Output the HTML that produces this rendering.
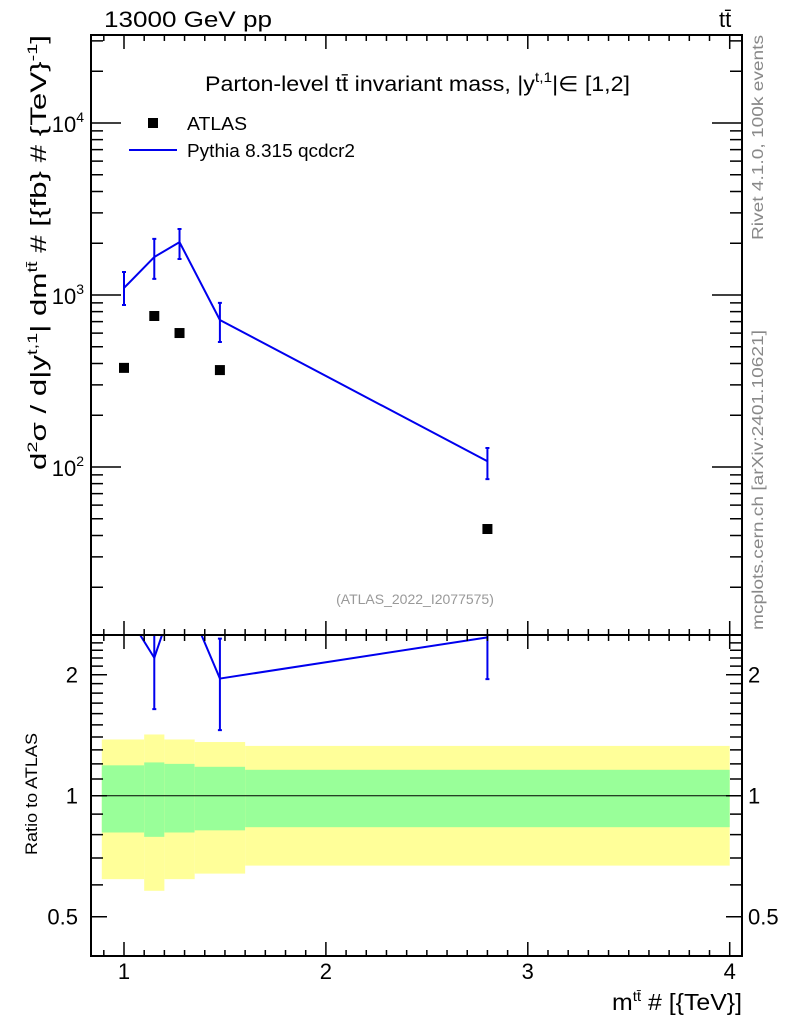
<!DOCTYPE html>
<html><head><meta charset="utf-8"><style>
body{margin:0;background:#fff;}
svg{display:block;font-family:"Liberation Sans",sans-serif;}
</style></head><body>
<svg id="chart" width="786" height="1024" xmlns="http://www.w3.org/2000/svg">
<g id="bands"></g>
<g id="marks"></g>
<g id="axes"></g>
<text x="104" y="27" font-size="22" textLength="168" lengthAdjust="spacingAndGlyphs">13000 GeV pp</text>
<text x="719" y="27" font-size="22">tt̄</text>
<text x="205" y="91" font-size="21" textLength="425" lengthAdjust="spacingAndGlyphs">Parton-level tt̄ invariant mass, |y<tspan dy="-9" font-size="14">t,1</tspan><tspan dy="9">|∈ [1,2]</tspan></text>
<rect x="148" y="118" width="10" height="10" fill="#000"/>
<text x="187" y="130" font-size="18" textLength="60" lengthAdjust="spacingAndGlyphs">ATLAS</text>
<line x1="129" y1="150" x2="177" y2="150" stroke="#0000ee" stroke-width="2"/>
<text x="187" y="157" font-size="18" textLength="168" lengthAdjust="spacingAndGlyphs">Pythia 8.315 qcdcr2</text>
<text x="415" y="604" font-size="14" fill="#999" text-anchor="middle">(ATLAS_2022_I2077575)</text>
<text transform="translate(763,240) rotate(-90)" font-size="16" fill="#888" textLength="205" lengthAdjust="spacingAndGlyphs">Rivet 4.1.0,  100k events</text>
<text transform="translate(763,630) rotate(-90)" font-size="16" fill="#888" textLength="300" lengthAdjust="spacingAndGlyphs">mcplots.cern.ch [arXiv:2401.10621]</text>
<text transform="translate(46,470) rotate(-90)" font-size="22" textLength="435" lengthAdjust="spacingAndGlyphs">d<tspan dy="-9" font-size="14">2</tspan><tspan dy="9">σ / d|y</tspan><tspan dy="-9" font-size="14">t,1</tspan><tspan dy="9">| dm</tspan><tspan dy="-9" font-size="14">tt̄</tspan><tspan dy="9"> # [{fb} # {TeV}</tspan><tspan dy="-9" font-size="14">-1</tspan><tspan dy="9">]</tspan></text>
<text transform="translate(37,855) rotate(-90)" font-size="17" textLength="122" lengthAdjust="spacingAndGlyphs">Ratio to ATLAS</text>
<text x="612" y="1010" font-size="23" textLength="130" lengthAdjust="spacingAndGlyphs">m<tspan dy="-9" font-size="14">tt̄</tspan><tspan dy="9"> # [{TeV}]</tspan></text>
</svg>
<script>
const xCenters=[1.0,1.15,1.275,1.475,2.8];
const atlasVals=[377,755,601,366,43.6];
const mcVals=[1099,1663,2030,716,108];
const mcUp=[1360,2120,2420,900,129];
const mcDn=[875,1240,1620,533,85];
const binEdges=[0.89,1.1,1.2,1.35,1.6,4.0];
const yellowUp=[1.38,1.42,1.38,1.36,1.33];
const yellowDn=[0.62,0.58,0.62,0.64,0.67];
const greenUp=[1.19,1.21,1.2,1.18,1.16];
const greenDn=[0.81,0.79,0.81,0.82,0.835];
const xTickLabels=[1,2,3,4];
const yMainLabels=[2,3,4];
const yRatioLabels=[0.5,1,2];

const NS="http://www.w3.org/2000/svg";
const L=91,R=742,T=35,MB=635,RB=956;
const X=v=>124+(v-1)*201.9;
const Y=v=>295-(Math.log10(v)-3)*172;
const YR=v=>795.7-Math.log2(v)*121;
function mk(tag,par,at){const e=document.createElementNS(NS,tag);for(const k in at)e.setAttribute(k,at[k]);par.appendChild(e);return e;}
const bands=document.getElementById('bands'),marks=document.getElementById('marks'),axes=document.getElementById('axes');
for(let i=0;i<yellowUp.length;i++){
  const x0=X(binEdges[i]),x1=X(binEdges[i+1]);
  const y=mk('rect',bands,{x:x0,y:YR(yellowUp[i]),width:x1-x0,height:YR(yellowDn[i])-YR(yellowUp[i]),fill:'#ffff99'});
  
  
  const g=mk('rect',bands,{x:x0,y:YR(greenUp[i]),width:x1-x0,height:YR(greenDn[i])-YR(greenUp[i]),fill:'#99ff99'});
  
  
}
const one=mk('line',bands,{x1:L,x2:R,y1:YR(1),y2:YR(1),stroke:'#000','stroke-width':1});


const defs=mk('defs',document.getElementById('chart'),{});
const c1=mk('clipPath',defs,{id:'cm'});mk('rect',c1,{x:L,y:T,width:R-L,height:MB-T});
const c2=mk('clipPath',defs,{id:'cr'});mk('rect',c2,{x:L,y:MB,width:R-L,height:RB-MB});
const gm=mk('g',marks,{'clip-path':'url(#cm)'});
const gr=mk('g',marks,{'clip-path':'url(#cr)'});
const mcl=mk('polyline',gm,{points:xCenters.map((x,i)=>X(x)+','+Y(mcVals[i])).join(' '),fill:'none',stroke:'#0000ee','stroke-width':2});


xCenters.forEach((x,i)=>{
  const e=mk('path',gm,{d:`M${X(x)},${Y(mcUp[i])}V${Y(mcDn[i])}M${X(x)-2},${Y(mcUp[i])}h4M${X(x)-2},${Y(mcDn[i])}h4`,stroke:'#0000ee','stroke-width':2,fill:'none'});
  
  
  const p=mk('rect',gm,{x:X(x)-5,y:Y(atlasVals[i])-5,width:10,height:10,fill:'#000'});
  
  
});
const rl=mk('polyline',gr,{points:xCenters.map((x,i)=>X(x)+','+YR(mcVals[i]/atlasVals[i])).join(' '),fill:'none',stroke:'#0000ee','stroke-width':2});


xCenters.forEach((x,i)=>{
  const a=atlasVals[i];
  if(YR(mcVals[i]/a)<MB-3)return;
  const e=mk('path',gr,{d:`M${X(x)},${YR(mcUp[i]/a)}V${YR(mcDn[i]/a)}M${X(x)-2},${YR(mcUp[i]/a)}h4M${X(x)-2},${YR(mcDn[i]/a)}h4`,stroke:'#0000ee','stroke-width':2,fill:'none'});
  
  
});
const f1=mk('rect',axes,{x:L,y:T,width:R-L,height:MB-T,fill:'none',stroke:'#000','stroke-width':2});


const f2=mk('rect',axes,{x:L,y:MB,width:R-L,height:RB-MB,fill:'none',stroke:'#000','stroke-width':2});


let d='';
for(let k=9;k<=40;k++){const v=k/10;const x=X(v);if(x<L||x>R)continue;const maj=k%10==0;const len=maj?14:6;
  d+=`M${x},${T}v${len}M${x},${MB}v${-len}M${x},${MB}v${len}M${x},${RB}v${-len}`;}
for(let e=1;e<=4;e++)for(let m=1;m<=9;m++){const y=Y(m*Math.pow(10,e));if(y<T||y>MB)continue;const len=m==1?30:12;d+=`M${L},${y}h${len}M${R},${y}h${-len}`;}
[0.5,0.6,0.7,0.8,0.9,1,1.1,1.2,1.3,1.4,1.5,1.6,1.7,1.8,1.9,2,2.1,2.2,2.3,2.4].forEach(v=>{const y=YR(v);const len=[0.5,1,2].includes(v)?16:12;d+=`M${L},${y}h${len}M${R},${y}h${-len}`;});
const tk=mk('path',axes,{d,stroke:'#000','stroke-width':1.5,fill:'none'});


xTickLabels.forEach(v=>{const t=mk('text',axes,{x:X(v),y:979,'font-size':22,'text-anchor':'middle'});t.textContent=v;
  
  });
yMainLabels.forEach(e=>{const t=mk('text',axes,{x:84,y:Y(Math.pow(10,e))+9,'font-size':22,'text-anchor':'end'});
  
  
  t.innerHTML='10<tspan dy="-10" font-size="14">'+e+'</tspan>';});
yRatioLabels.forEach(v=>{const y=YR(v)+8;
  const t=mk('text',axes,{x:78,y,'font-size':22,'text-anchor':'end'});t.textContent=v;
  
  
  const t2=mk('text',axes,{x:748,y,'font-size':22});t2.textContent=v;
  
  });
</script>
</body></html>
